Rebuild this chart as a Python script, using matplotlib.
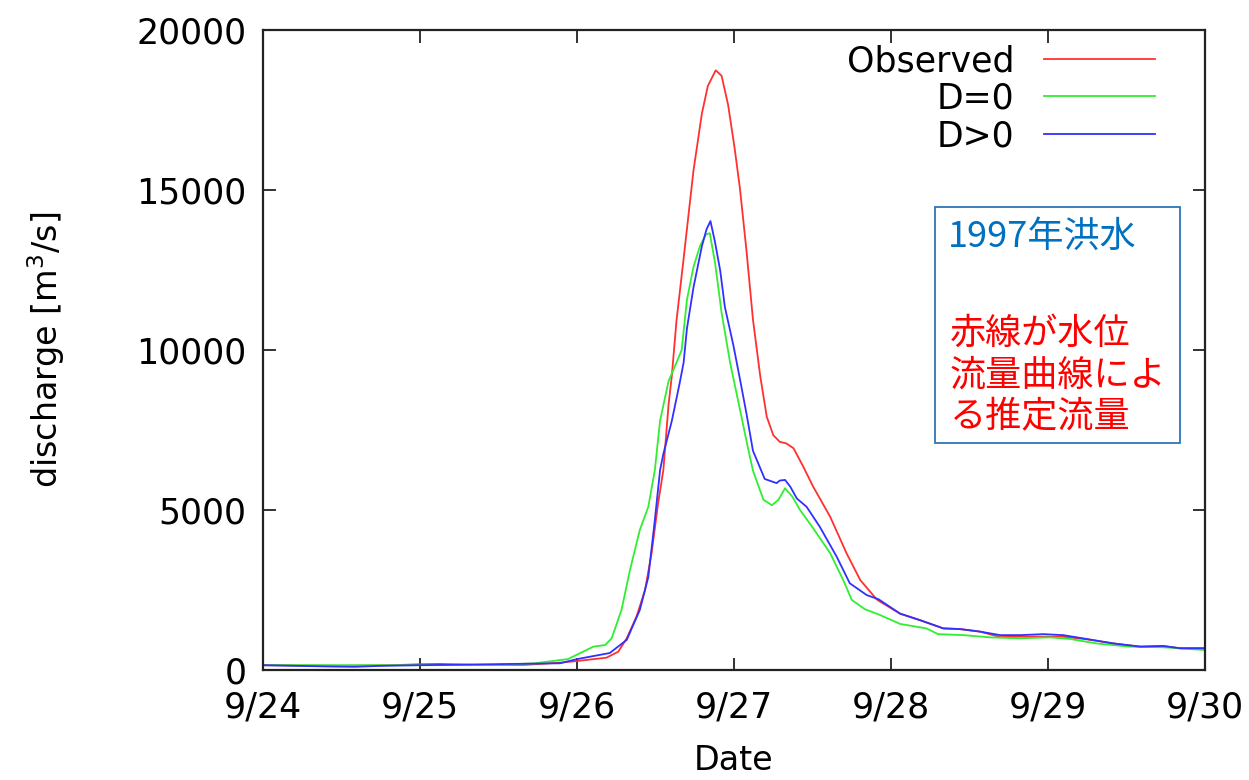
import matplotlib
matplotlib.use("Agg")
import matplotlib.pyplot as plt
from matplotlib.patches import Rectangle
import numpy as np

# ---- data (hours since 9/24 00:00, discharge m3/s) ----
obs_hours = [0, 7, 12, 20, 24, 27, 32, 40, 45.4, 48, 52.5, 54.3, 55.6, 57.1, 58.4, 59.4, 60.4,
             61.2, 62.0, 62.5, 63.2, 64.3, 65.8, 67.1, 68.0, 69.2, 70.1, 71.1, 72.1, 72.9, 73.9,
             74.9, 76.0, 77.0, 78.0, 79.0, 80.0, 81.1, 82.6, 84.1, 86.7, 89.2, 91.3, 93.8, 94.3,
             97.4, 100.4, 104.0, 106.5, 109.6, 112.7, 115.7, 119.3, 122.3, 125.9, 130.0, 134.1,
             137.6, 140.2, 144]
obs_q = [150, 140, 130, 150, 180, 190, 160, 160, 230, 280, 385, 570, 990, 1670, 2500, 3650, 5210,
         6250, 8300, 9200, 10900, 12860, 15600, 17400, 18250, 18740, 18570, 17660, 16300, 15060, 13120,
         10950, 9200, 7920, 7340, 7130, 7080, 6930, 6350, 5730, 4790, 3650, 2810, 2210, 2140,
         1760, 1560, 1300, 1280, 1200, 1030, 1040, 1040, 1040, 960, 830, 730,
         750, 680, 680]

d0_hours = [0, 24, 36, 41.6, 45.4, 46.6, 48, 50.5, 52.3, 53.3, 54.8, 56.1, 57.6, 58.9, 59.9, 60.7,
            62.0, 63.5, 64.0, 64.8, 65.8, 66.8, 67.7, 68.3, 69.1, 70.1, 71.4, 72.9, 74.2, 74.9,
            76.5, 77.8, 78.8, 79.8, 80.9, 82.1, 84.1, 86.7, 88.7, 90.0, 92.0, 94.3, 97.4, 101.4,
            103.2, 107.1, 111.1, 115.7, 120.3, 123.4, 127.4, 132.5, 137.6, 144]
d0_q = [150, 150, 160, 210, 310, 340, 480, 730, 780, 990, 1875, 3125, 4375, 5100, 6250, 7790,
        9030, 9750, 10000, 11560, 12590, 13250, 13610, 13650, 12730, 11170, 9610, 8150, 6875, 6230,
        5320, 5150, 5320, 5680, 5420, 5000, 4430, 3650, 2810, 2190, 1900, 1720, 1440, 1300,
        1120, 1090, 1020, 990, 1020, 970, 830, 730, 710, 625]

dp_hours = [0, 10, 14, 18, 24, 45.4, 48, 53.0, 55.6, 57.6, 58.9, 59.9, 60.7, 61.2, 62.5, 63.7,
            64.3, 64.8, 65.8, 67.1, 67.8, 68.4, 69.1, 69.9, 70.6, 71.9, 72.9, 73.9, 74.9, 76.7,
            78.5, 79.0, 79.8, 80.6, 81.6, 83.1, 85.1, 87.7, 89.7, 92.3, 94.1, 97.4, 100.4, 104.0,
            106.5, 109.6, 112.7, 115.7, 119.3, 122.3, 125.9, 130.0, 134.1, 137.6, 140.2, 144]
dp_q = [150, 110, 100, 130, 150, 210, 340, 530, 940, 1875, 2900, 4690, 6250, 6750, 7790, 8970,
        9610, 10660, 11950, 13250, 13770, 14030, 13370, 12470, 11350, 10150, 9100, 8020, 6850, 5970,
        5840, 5920, 5940, 5730, 5360, 5100, 4480, 3540, 2710, 2340, 2210, 1760, 1560, 1300,
        1280, 1200, 1090, 1090, 1120, 1090, 970, 830, 730, 750, 680, 680]

series_labels = ["Observed", "D=0", "D>0"]
series_colors = ["#ff3030", "#30ee30", "#3030ff"]

x_ticks_days = [0, 1, 2, 3, 4, 5, 6]
x_tick_labels = ["9/24", "9/25", "9/26", "9/27", "9/28", "9/29", "9/30"]
y_ticks = [0, 5000, 10000, 15000, 20000]

note_title = "1997年洪水"
note_lines = ["赤線が水位", "流量曲線によ", "る推定流量"]

# ---- figure ----
plt.rcParams['font.family'] = ['DejaVu Sans']
fig = plt.figure(figsize=(12.49, 7.80), dpi=100)
ax = fig.add_axes([263/1249, 1-670/780, (1205-263)/1249, (670-30)/780])

for hrs, q, lab, col in zip([obs_hours, d0_hours, dp_hours], [obs_q, d0_q, dp_q],
                            series_labels, series_colors):
    ax.plot(np.array(hrs)/24.0, q, color=col, lw=1.3, label=lab)

ax.set_xlim(0, 6)
ax.set_ylim(0, 20000)
ax.set_xticks(x_ticks_days)
ax.set_xticklabels(x_tick_labels)
ax.set_yticks(y_ticks)
ax.tick_params(direction='in', length=9, width=1.3, top=True, right=True, labelsize=25, color='#222222')
ax.tick_params(axis='x', pad=15)
ax.tick_params(axis='y', pad=12)
for s in ax.spines.values():
    s.set_linewidth(1.6)
    s.set_color('#222222')

ax.set_xlabel("Date", fontsize=24, labelpad=14)
ax.set_ylabel("discharge [m$^3$/s]", fontsize=24, labelpad=50)

leg = ax.legend(loc='upper right', bbox_to_anchor=(0.947, 0.978), frameon=False,
                markerfirst=False, fontsize=25, handlelength=3.2, handletextpad=0.85,
                labelspacing=0.1, borderpad=0, borderaxespad=0)

# note box
ax.add_patch(Rectangle((0.7134, 0.3547), 0.9735-0.7134, 0.7234-0.3547, transform=ax.transAxes,
                       fill=False, edgecolor='#2e75b6', lw=1.3, zorder=5))
cjk = ['Noto Sans CJK JP', 'DejaVu Sans']
ax.text(0.7272, 0.6766, note_title, transform=ax.transAxes, color='#0070c0', fontsize=26,
        family=cjk, va='center', ha='left')
for i, line in enumerate(note_lines):
    ax.text(0.7293, 0.526 - i*0.0656, line, transform=ax.transAxes, color='#ff0000', fontsize=26,
            family=cjk, va='center', ha='left')

fig.savefig("out.png", dpi=100)
